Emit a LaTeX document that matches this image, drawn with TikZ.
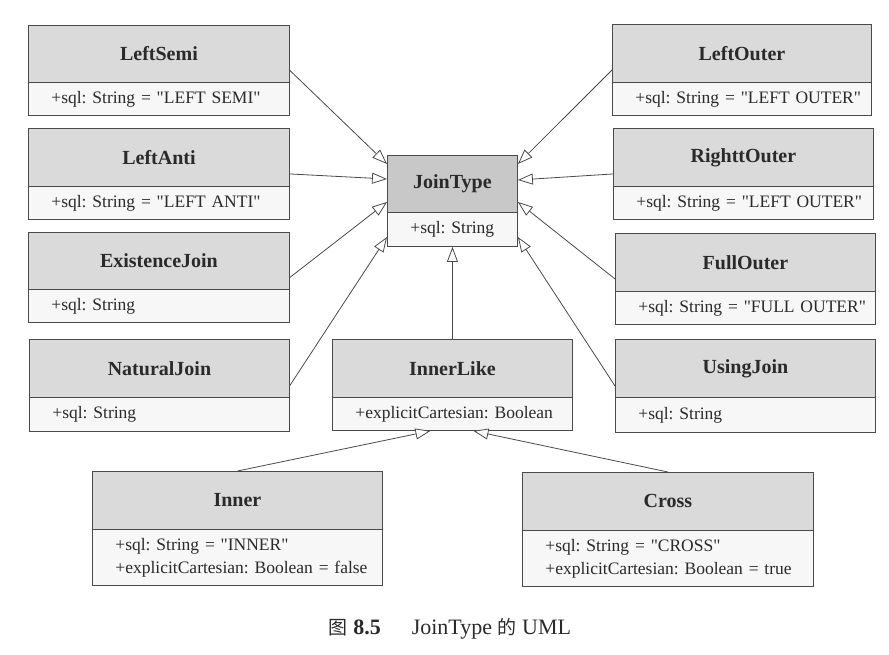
\documentclass[tikz,border=0pt]{standalone}
\usepackage{fontspec}
\setmainfont{Liberation Serif}[Ligatures=TeXOff]
\newfontfamily\cjk{Noto Sans CJK SC}
\usetikzlibrary{arrows.meta,calc}
\definecolor{hdrgray}{HTML}{DADADA}
\definecolor{hdrdark}{HTML}{C8C8C8}
\definecolor{bodygray}{HTML}{F7F7F7}
\definecolor{linegray}{HTML}{4A4A4A}
\definecolor{txtgray}{HTML}{2A2A2A}
\newcommand{\dq}{\char"22\relax}
\tikzset{
  hdr/.style={draw=linegray, line width=0.9pt, fill=hdrgray, inner sep=0pt,
    font=\fontsize{20}{22}\selectfont\bfseries, text=txtgray},
  bdy/.style={draw=linegray, line width=0.9pt, fill=bodygray, inner xsep=23pt,
    inner ysep=0pt, align=left, font=\fontsize{17.5}{23}\selectfont\frenchspacing, text=txtgray},
  gen/.style={draw=linegray, line width=0.8pt,
    -{Triangle[open,length=15pt,width=11pt,fill=white]}},
}
% #1 header options, #2 name, #3 x1, #4 y1, #5 x2, #6 divider y, #7 y2, #8 title, #9 body
\newcommand{\umlclass}[9][]{%
  \pgfmathsetmacro\clsw{#5-#3}%
  \pgfmathsetmacro\clstw{#5-#3-46}%
  \pgfmathsetmacro\clshh{#6-#4}%
  \pgfmathsetmacro\clsbh{#7-#6}%
  \node[hdr,#1,anchor=north west,minimum width=\clsw pt,minimum height=\clshh pt] (#2-h) at (#3,#4) {#8};
  \node[bdy,anchor=north west,minimum width=\clsw pt,minimum height=\clsbh pt,text width=\clstw pt] (#2-b) at (#3,#6) {#9};
}
\begin{document}
\begin{tikzpicture}[x=1pt,y=-1pt]
\useasboundingbox (0,0) rectangle (889,654);
% left column
\umlclass{ls}{28}{25}{289}{82}{115}{LeftSemi}{\mbox{+sql: String = \dq LEFT SEMI\dq}}
\umlclass{la}{28}{128}{289}{186}{219}{LeftAnti}{\mbox{+sql: String = \dq LEFT ANTI\dq}}
\umlclass{ej}{28}{232}{289}{289}{322}{ExistenceJoin}{\mbox{+sql: String}}
\umlclass{nj}{29}{339}{289}{397}{431}{NaturalJoin}{\mbox{+sql: String}}
% right column
\umlclass{lo}{612}{24}{871}{82}{115}{LeftOuter}{\mbox{+sql: String = \dq LEFT OUTER\dq}}
\umlclass{ro}{613}{128}{873}{186}{219}{RighttOuter}{\mbox{+sql: String = \dq LEFT OUTER\dq}}
\umlclass{fo}{615}{233}{875}{291}{324}{FullOuter}{\mbox{+sql: String = \dq FULL OUTER\dq}}
\umlclass{uj}{615}{339}{875}{397}{432}{UsingJoin}{\mbox{+sql: String}}
% center
\umlclass[fill=hdrdark]{jt}{387}{155}{517}{212}{246}{JoinType}{\mbox{+sql: String}}
\umlclass{il}{332}{339}{572}{397}{430}{InnerLike}{\mbox{+explicitCartesian: Boolean}}
% bottom
\umlclass{in}{92}{471}{382}{529}{585}{Inner}{\mbox{+sql: String = \dq INNER\dq}\\\mbox{+explicitCartesian: Boolean = false}}
\umlclass{cr}{522}{472}{813}{530}{586}{Cross}{\mbox{+sql: String = \dq CROSS\dq}\\\mbox{+explicitCartesian: Boolean = true}}
% generalizations
\draw[gen] ($(ls-h.north east)!0.5!(ls-b.south east)$) -- ([yshift=-9pt]jt-h.north west);
\draw[gen] ($(la-h.north east)!0.5!(la-b.south east)$) -- ([yshift=-24pt]jt-h.north west);
\draw[gen] ($(ej-h.north east)!0.5!(ej-b.south east)$) -- ([yshift=-47pt]jt-h.north west);
\draw[gen] ($(nj-h.north east)!0.5!(nj-b.south east)$) -- ([yshift=-82pt]jt-h.north west);
\draw[gen] ($(lo-h.north west)!0.5!(lo-b.south west)$) -- ([yshift=-9pt]jt-h.north east);
\draw[gen] ($(ro-h.north west)!0.5!(ro-b.south west)$) -- ([yshift=-25pt]jt-h.north east);
\draw[gen] ($(fo-h.north west)!0.5!(fo-b.south west)$) -- ([yshift=-47pt]jt-h.north east);
\draw[gen] ($(uj-h.north west)!0.5!(uj-b.south west)$) -- ([yshift=-82pt]jt-h.north east);
\draw[gen] (il-h.north) -- (jt-b.south);
\draw[gen] (in-h.north) -- ([xshift=-22pt]il-b.south);
\draw[gen] (cr-h.north) -- ([xshift=21pt]il-b.south);
% caption
\node[font=\fontsize{22}{24}\selectfont, text=txtgray] (cap) at (450,629)
  {{\cjk\fontsize{19}{24}\selectfont 图} \textbf{8.5}\hspace{1.4em}JoinType {\cjk\fontsize{19}{24}\selectfont 的} UML};
\end{tikzpicture}
\end{document}
